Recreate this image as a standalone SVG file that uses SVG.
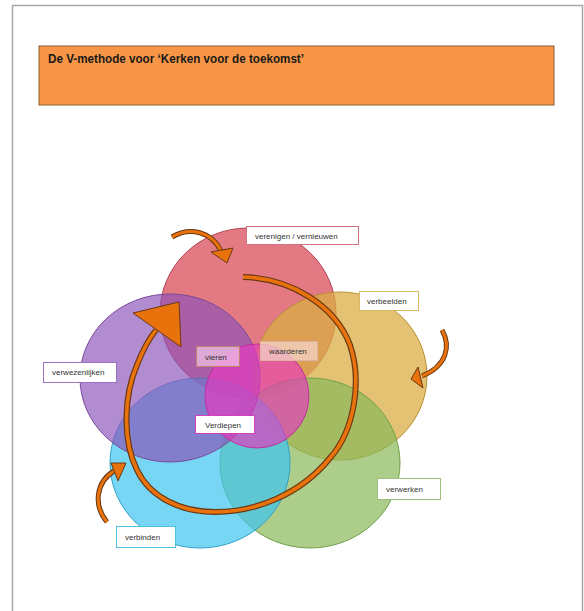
<svg xmlns="http://www.w3.org/2000/svg" width="584" height="611" viewBox="0 0 584 611">
<style>
.lbl{font-family:"Liberation Sans",Arial,sans-serif;font-size:8px;fill:#333}
.box{stroke-width:1}
.c{stroke-width:1}
.shadow{fill:none;stroke:#6b3814;stroke-linecap:butt}
.core{fill:none;stroke:#e8720c;stroke-linecap:butt}
.head{fill:#e8720c;stroke:#6b3814;stroke-width:1;stroke-linejoin:miter}
</style>
<rect x="0" y="0" width="584" height="611" fill="#ffffff"/>
<path d="M12.5,611 V5.5 H582.5 V611" fill="none" stroke="#a8a8a8" stroke-width="1.5"/>
<g id="title">
<rect x="39" y="46" width="515" height="59" fill="#f79646" stroke="#8a5a30" stroke-width="1"/>
<text x="48" y="63" font-family="'Liberation Sans',Arial,sans-serif" font-size="12" font-weight="bold" fill="#1a1a1a" textLength="256" lengthAdjust="spacingAndGlyphs">De V-methode voor ‘Kerken voor de toekomst’</text>
</g>
<g id="circles">
<ellipse id="c-red" class="c" cx="248" cy="313" rx="88" ry="85" fill="#db5560" fill-opacity="0.78" stroke="#b04050"/>
<ellipse id="c-yellow" class="c" cx="340" cy="376" rx="87" ry="84" fill="#d9ad45" fill-opacity="0.75" stroke="#b89030"/>
<ellipse id="c-green" class="c" cx="310" cy="463" rx="90" ry="85" fill="#8ab85a" fill-opacity="0.7" stroke="#70a048"/>
<ellipse id="c-cyan" class="c" cx="200" cy="463" rx="90" ry="85" fill="#3cc4f0" fill-opacity="0.7" stroke="#30a0c8"/>
<ellipse id="c-purple" class="c" cx="170" cy="378" rx="90" ry="84" fill="#8a50b8" fill-opacity="0.66" stroke="#7a4a9a"/>
<circle id="c-magenta" class="c" cx="257" cy="396" r="52" fill="#e838c0" fill-opacity="0.65" stroke="#c030a0"/>
</g>
<g id="connectors">
<path class="shadow" stroke-width="6" d="M243,277 C290,278 335,305 350,345 C362,380 355,430 330,458 C300,495 255,512 215,512 C180,512 150,497 137,470 C122,440 124,395 137,365 C142,352 148,340 156,330"/>
<path class="core" stroke-width="3.6" d="M243,277 C290,278 335,305 350,345 C362,380 355,430 330,458 C300,495 255,512 215,512 C180,512 150,497 137,470 C122,440 124,395 137,365 C142,352 148,340 156,330"/>
<polygon class="head" points="133,313 179,302 181,347"/>
<path class="shadow" stroke-width="5" d="M172,237 C190,226 212,232 221,251"/>
<path class="core" stroke-width="3" d="M172,237 C190,226 212,232 221,251"/>
<polygon class="head" points="211,252 233,248 227,263"/>
<path class="shadow" stroke-width="5" d="M442,330 C451,346 447,366 422,376"/>
<path class="core" stroke-width="3" d="M442,330 C451,346 447,366 422,376"/>
<polygon class="head" points="411,379 418,367 423,388"/>
<path class="shadow" stroke-width="5" d="M107,522 C93,505 96,482 114,471"/>
<path class="core" stroke-width="3" d="M107,522 C93,505 96,482 114,471"/>
<polygon class="head" points="126,463 111,463 118,481"/>
</g>
<g id="n-verenigen"><rect class="box" x="246.5" y="226.5" width="112" height="18" fill="#ffffff" stroke="#d07080"/><text class="lbl" x="255" y="238.5">verenigen / vernieuwen</text></g>
<g id="n-verbeelden"><rect class="box" x="359.5" y="291.5" width="59" height="19" fill="#ffffff" stroke="#d8b860"/><text class="lbl" x="367" y="303.5">verbeelden</text></g>
<g id="n-verwezenlijken"><rect class="box" x="43.5" y="362.5" width="73" height="20" fill="#ffffff" stroke="#9c70c0"/><text class="lbl" x="52" y="375">verwezenlijken</text></g>
<g id="n-vieren"><rect class="box" x="196.5" y="346.5" width="43" height="20" fill="#f4c8e8" fill-opacity="0.7" stroke="#c08070"/><text class="lbl" x="205" y="359.5">vieren</text></g>
<g id="n-waarderen"><rect class="box" x="260.5" y="341.5" width="57" height="19" fill="#f4d4c8" fill-opacity="0.75" stroke="#e0b0a0"/><text class="lbl" x="269" y="354">waarderen</text></g>
<g id="n-verdiepen"><rect class="box" x="195.5" y="415.5" width="59" height="18" fill="#ffffff" stroke="#d040c0"/><text class="lbl" x="205" y="427.5">Verdiepen</text></g>
<g id="n-verwerken"><rect class="box" x="377.5" y="478.5" width="63" height="21" fill="#ffffff" stroke="#a0c080"/><text class="lbl" x="386" y="492">verwerken</text></g>
<g id="n-verbinden"><rect class="box" x="116.5" y="526.5" width="59" height="21" fill="#ffffff" stroke="#50c0e0"/><text class="lbl" x="125" y="540">verbinden</text></g>
</svg>
